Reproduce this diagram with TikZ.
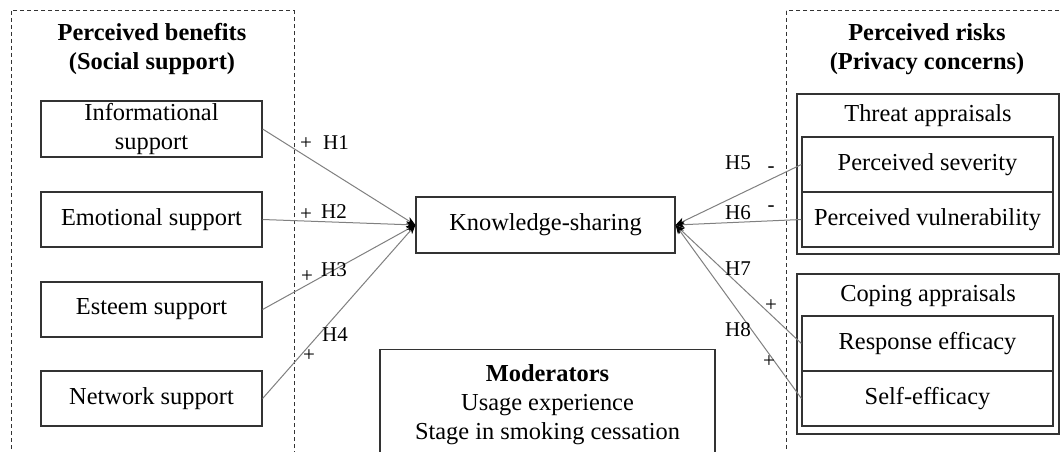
\documentclass[tikz,border=0pt]{standalone}
\usepackage{fontspec}
\setmainfont{Liberation Serif}
\usetikzlibrary{arrows.meta}
\begin{document}
\begin{tikzpicture}[x=1pt,y=-1pt,
  every node/.style={font=\fontsize{24.4}{29}\selectfont, inner sep=0pt},
  box/.style={draw=black!80, line width=1.2pt, rectangle, align=center},
  grp/.style={draw=black!80, dash pattern=on 4pt off 3pt, line width=1pt},
  conn/.style={draw=black!50, line width=1pt},
  tipk/.style={-{Stealth[length=9pt,width=7pt,inset=2.5pt,black]}},
  hyp/.style={font=\fontsize{21}{25}\selectfont},
  ttl/.style={font=\bfseries\fontsize{24.4}{29}\selectfont, align=center},
]
\clip (0,0) rectangle (1062,452);
\fill[white] (0,0) rectangle (1062,452);
% groups
\draw[grp] (11,11) rectangle (294,480);
\draw[grp] (786,11) rectangle (1080,480);
\node[ttl] (bentitle) at (152,49) {Perceived benefits\\(Social support)};
\node[ttl] (risktitle) at (927,49) {Perceived risks\\(Privacy concerns)};
% left boxes
\node[box, minimum width=221pt, minimum height=56pt] (inf) at (151.5,129) {Informational\\support};
\node[box, minimum width=221pt, minimum height=55pt] (emo) at (151.5,219.5) {Emotional support};
\node[box, minimum width=221pt, minimum height=55pt] (est) at (151.5,309.5) {Esteem support};
\node[box, minimum width=221pt, minimum height=55pt] (net) at (151.5,398.5) {Network support};
% center
\node[box, minimum width=259pt, minimum height=56pt] (ks) at (545.5,225) {Knowledge-sharing};
\node[box, anchor=north, minimum width=335pt, inner ysep=15pt] (mod) at (547.5,349) {\textbf{Moderators}\\Usage experience\\Stage in smoking cessation};
% right groups
\node[box, minimum width=262pt, minimum height=160pt] (threat) at (928,174) {};
\node (threatlbl) at (928,116) {Threat appraisals};
\node[box, minimum width=251pt, minimum height=55pt] (sev) at (927.5,164.5) {Perceived severity};
\node[box, minimum width=251pt, minimum height=55pt] (vul) at (927.5,219.5) {Perceived vulnerability};
\node[box, minimum width=262pt, minimum height=160pt] (coping) at (928,354) {};
\node (copinglbl) at (928,296) {Coping appraisals};
\node[box, minimum width=251pt, minimum height=55pt] (resp) at (927.5,343.5) {Response efficacy};
\node[box, minimum width=251pt, minimum height=55pt] (self) at (927.5,398.5) {Self-efficacy};
% connectors
\draw[conn, tipk] (inf.east) -- (ks.west);
\draw[conn, tipk] (emo.east) -- (ks.west);
\draw[conn, tipk] (est.east) -- (ks.west);
\draw[conn, tipk] (net.east) -- (ks.west);
\draw[conn, tipk] (sev.west) -- (ks.east);
\draw[conn, tipk] (vul.west) -- (ks.east);
\draw[conn, tipk] (resp.west) -- (ks.east);
\draw[conn, tipk] (self.west) -- (ks.east);
% hypothesis labels
\node[hyp] (p1) at (306,144) {+};
\node[hyp] (h1) at (336,143) {H1};
\node[hyp] (p2) at (306,215) {+};
\node[hyp] (h2) at (334,212) {H2};
\node[hyp] (p3) at (307,277) {+};
\node[hyp] (h3) at (334,270) {H3};
\node[hyp] (h4) at (335,335) {H4};
\node[hyp] (p4) at (309,356) {+};
\node[hyp] (h5) at (738,163) {H5};
\node[hyp] (m5) at (771,170) {-};
\node[hyp] (h6) at (738,213) {H6};
\node[hyp] (m6) at (771,209) {-};
\node[hyp] (h7) at (738,269) {H7};
\node[hyp] (p7) at (771,306) {+};
\node[hyp] (h8) at (738,330) {H8};
\node[hyp] (p8) at (769,362) {+};
\end{tikzpicture}
\end{document}
